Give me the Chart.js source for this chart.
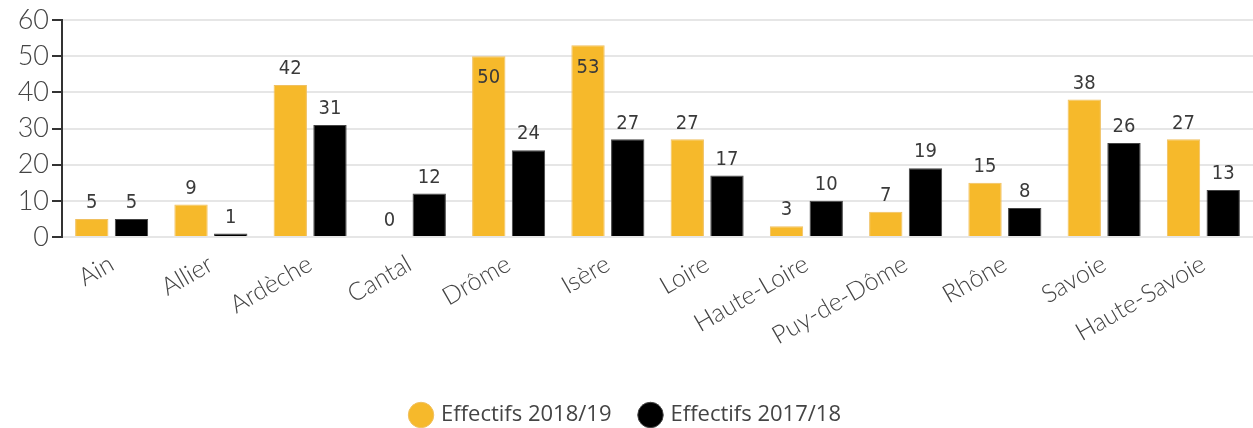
<!DOCTYPE html>
<html>
<head>
<meta charset="utf-8">
<script src="https://cdn.jsdelivr.net/npm/chart.js@4"></script>
<style>
  html, body { margin: 0; padding: 0; background: #fff; }
  #wrap { width: 1253px; height: 428px; }
</style>
</head>
<body>
<div id="wrap"><canvas id="effectifsChart"></canvas></div>
<script>
// Données du graphique
const departements = ['Ain', 'Allier', 'Ardèche', 'Cantal', 'Drôme', 'Isère', 'Loire', 'Haute-Loire', 'Puy-de-Dôme', 'Rhône', 'Savoie', 'Haute-Savoie'];
const effectifs2018 = [5, 9, 42, 0, 50, 53, 27, 3, 7, 15, 38, 27];
const effectifs2017 = [5, 1, 31, 12, 24, 27, 17, 10, 19, 8, 26, 13];
const yTicks = [0, 10, 20, 30, 40, 50, 60];

const jaune = '#F6B92B';
const noir = '#000000';

// petit plugin pour écrire les valeurs au-dessus des barres
const valeursPlugin = {
    id: 'valeurs',
    afterDatasetsDraw(chart) {
        const c = chart.ctx;
        c.save();
        c.font = '20px "Liberation Sans Narrow", "DejaVu Sans Condensed", sans-serif';
        c.fillStyle = '#3a3a3a';
        c.textAlign = 'center';
        chart.data.datasets.forEach((ds, i) => {
            chart.getDatasetMeta(i).data.forEach((bar, j) => {
                const v = ds.data[j];
                if (v >= 48) {
                    // trop haut : on écrit dans la barre
                    c.textBaseline = 'top';
                    c.fillText(v, bar.x, bar.y + 12);
                } else {
                    c.textBaseline = 'bottom';
                    c.fillText(v, bar.x, bar.y - 6);
                }
            });
        });
        c.restore();
    }
};

const ctx = document.getElementById('effectifsChart').getContext('2d');

new Chart(ctx, {
    type: 'bar',
    data: {
        labels: departements,
        datasets: [{
            label: 'Effectifs 2018/19',
            data: effectifs2018,
            backgroundColor: jaune,
            borderColor: '#f0c060',
            borderWidth: 1,
            categoryPercentage: 0.8,
            barPercentage: 0.84
        }, {
            label: 'Effectifs 2017/18',
            data: effectifs2017,
            backgroundColor: noir,
            borderColor: '#444',
            borderWidth: 1,
            categoryPercentage: 0.8,
            barPercentage: 0.84
        }]
    },
    options: {
        responsive: true,
        maintainAspectRatio: false,
        animation: false,
        layout: { padding: { top: 20, right: 0, left: 0, bottom: -8 } },
        plugins: {
            legend: {
                position: 'bottom',
                labels: {
                    usePointStyle: true,
                    pointStyle: 'circle',
                    boxWidth: 18,
                    boxHeight: 18,
                    padding: 30,
                    color: '#444',
                    font: { family: '"Open Sans", sans-serif', size: 22 }
                }
            },
            tooltip: { enabled: false }
        },
        scales: {
            x: {
                grid: { display: false },
                border: { display: false },
                afterFit: axis => { axis.height = 137; },
                ticks: {
                    minRotation: 30,
                    maxRotation: 30,
                    color: '#444',
                    padding: 4,
                    font: { family: 'Lato, sans-serif', size: 25, weight: 300 }
                }
            },
            y: {
                min: 0,
                max: 60,
                afterBuildTicks: axis => { axis.ticks = yTicks.map(v => ({ value: v })); },
                afterFit: axis => { axis.width = 62; },
                grid: {
                    color: '#e6e6e6',
                    lineWidth: 2,
                    tickColor: '#333',
                    tickLength: 10
                },
                border: { display: true, color: '#333', width: 2 },
                ticks: {
                    color: '#444',
                    padding: 3,
                    font: { family: 'Lato, sans-serif', size: 27, weight: 300 }
                }
            }
        }
    },
    plugins: [valeursPlugin]
});
</script>
</body>
</html>
